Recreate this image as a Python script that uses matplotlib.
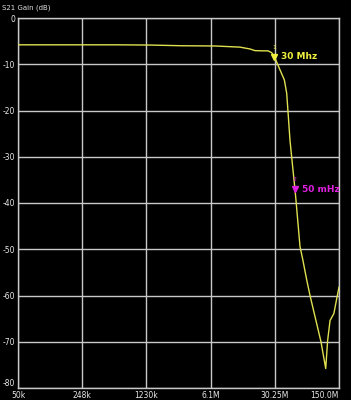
import matplotlib
matplotlib.use("Agg")
import matplotlib.pyplot as plt

plt.rcParams["axes.unicode_minus"] = False

# S21 gain trace (frequency in Hz, gain in dB)
freq = [50e3, 200e3, 600e3, 1.35e6, 3e6, 6.8e6, 12.7e6, 16.3e6, 18.4e6, 22e6,
        25.5e6, 28e6, 30e6, 34.4e6, 38.4e6, 40.7e6, 42.4e6, 44.2e6, 46.8e6,
        50e6, 51.3e6, 56.7e6, 61e6, 67e6, 72.8e6, 95.7e6, 107.7e6, 113e6,
        120e6, 132e6, 142e6, 150e6]
gain = [-5.8, -5.8, -5.8, -5.85, -6.0, -6.05, -6.3, -6.7, -7.05, -7.1,
        -7.1, -7.5, -8.4, -11.2, -13.4, -16.3, -21.3, -26.5, -31.4,
        -37.0, -39.4, -49.4, -52.4, -56.6, -60.0, -70.0, -75.8, -69.7,
        -65.4, -63.9, -60.6, -58.2]

xticks = [50e3, 248e3, 1230e3, 6.1e6, 30.25e6, 150e6]
xlabels = ["50k", "248k", "1230k", "6.1M", "30.25M", "150.0M"]
yticks = [0, -10, -20, -30, -40, -50, -60, -70, -80]

markers = [(30e6, -8.4, "1", "30 Mhz", "#f0f040"),
           (50e6, -37.0, "2", "50 mHz", "#e020e0")]

fig = plt.figure(figsize=(3.51, 4.0), dpi=100, facecolor="black")
ax = fig.add_axes([18 / 351, 12 / 400, 321 / 351, 370 / 400])
ax.set_facecolor("black")

ax.plot(freq, gain, color="#e0e050", lw=1.0, zorder=3)

for f, g, num, label, col in markers:
    ax.plot([f], [g], marker="v", color=col, ms=4, zorder=4)
    ax.annotate(num, (f, g), xytext=(0, 5), textcoords="offset points",
                color=col, fontsize=4.5, ha="center", va="bottom")
    ax.annotate(label, (f, g), xytext=(5, 0), textcoords="offset points",
                color=col, fontsize=6.5, fontweight="bold", ha="left", va="center")

ax.set_xscale("log")
ax.set_xlim(50e3, 150e6)
ax.set_ylim(-80, 0)
ax.set_xticks(xticks)
ax.set_xticklabels(xlabels)
ax.minorticks_off()
ax.set_yticks(yticks)
ax.grid(True, color="#c8c8c8", lw=1.0)
ax.tick_params(colors="#e8e8e8", labelsize=5.5, length=0, pad=2)
# edge labels: keep them inside the figure and apart from each other
ax.get_xticklabels()[-1].set_horizontalalignment("right")
ax.get_yticklabels()[-1].set_verticalalignment("bottom")
for s in ax.spines.values():
    s.set_color("#c8c8c8")
    s.set_linewidth(1.0)

fig.text(2 / 351, 1 - 8 / 400, "S21 Gain (dB)", color="#e0e0e0", fontsize=5,
         ha="left", va="center")

fig.savefig("out.png", dpi=100, facecolor="black")
